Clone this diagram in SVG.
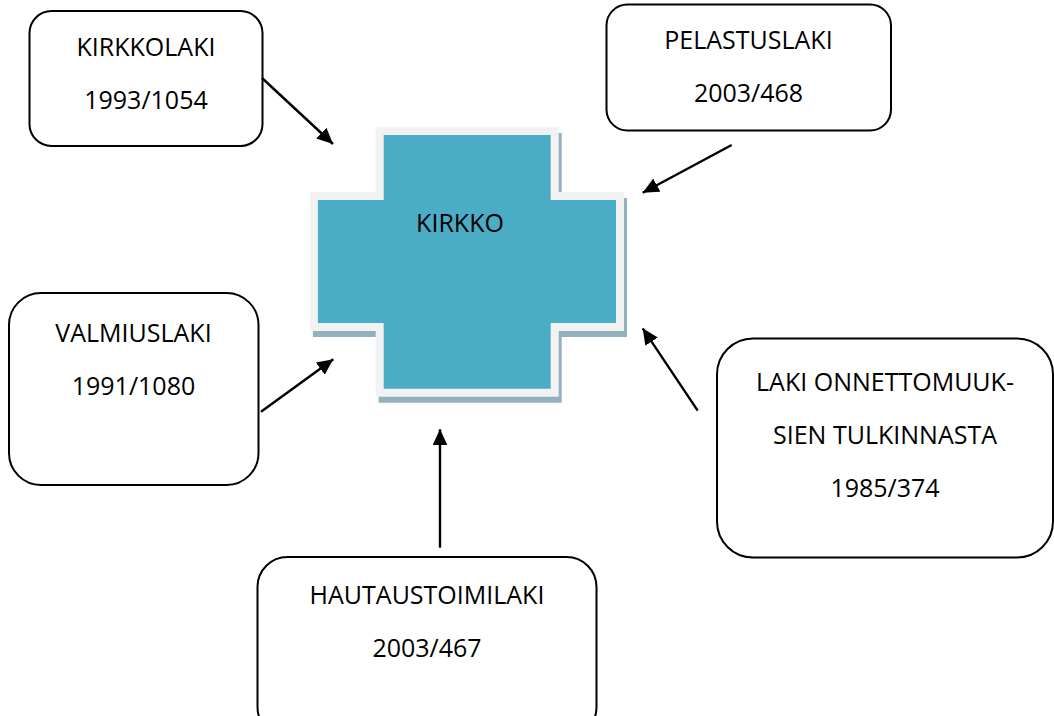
<svg xmlns="http://www.w3.org/2000/svg" width="1054" height="716" viewBox="0 0 1054 716">
<style>
.box{fill:#ffffff;stroke:#000000;stroke-width:2}
.t{font-family:"Open Sans","Noto Sans",sans-serif;font-size:25px;fill:#000000;text-anchor:middle}
.c{stroke:#000000;stroke-width:2.4;fill:none;marker-end:url(#ah)}
</style>
<defs>
<marker id="ah" markerUnits="userSpaceOnUse" markerWidth="17" markerHeight="15" refX="16" refY="7.5" orient="auto">
<path d="M0,0 L16,7.5 L0,15 Z" fill="#000000"/>
</marker>
</defs>
<rect width="1054" height="716" fill="#ffffff"/>
<g id="kirkko">
<polygon points="378.7,132.9 561.7,132.9 561.7,197.9 627,197.9 627,337 561.7,337 561.7,402.7 378.7,402.7 378.7,337 312.9,337 312.9,197.9 378.7,197.9" fill="#93b1bc"/>
<polygon points="379.7,130.9 554.7,130.9 554.7,195.9 620,195.9 620,327 554.7,327 554.7,392.7 379.7,392.7 379.7,327 313.9,327 313.9,195.9 379.7,195.9" fill="#4bacc6" stroke="#f2f2f2" stroke-width="8" stroke-linejoin="miter"/>
<text class="t" x="460" y="232">KIRKKO</text>
</g>
<g id="kirkkolaki">
<rect class="box" x="29.5" y="11" width="233" height="135" rx="22" ry="22"/>
<text class="t" x="146" y="56">KIRKKOLAKI</text>
<text class="t" x="146" y="109">1993/1054</text>
</g>
<g id="pelastuslaki">
<rect class="box" x="606.5" y="4.5" width="284.5" height="126" rx="21" ry="21"/>
<text class="t" x="748.5" y="49">PELASTUSLAKI</text>
<text class="t" x="748.5" y="102">2003/468</text>
</g>
<g id="valmiuslaki">
<rect class="box" x="9" y="293" width="249.5" height="192" rx="32" ry="32"/>
<text class="t" x="133.5" y="342">VALMIUSLAKI</text>
<text class="t" x="133.5" y="395">1991/1080</text>
</g>
<g id="onnettomuus">
<rect class="box" x="717" y="338.5" width="336" height="219" rx="36" ry="36"/>
<text class="t" x="885" y="391">LAKI ONNETTOMUUK-</text>
<text class="t" x="885" y="444">SIEN TULKINNASTA</text>
<text class="t" x="885" y="497">1985/374</text>
</g>
<g id="hautaus">
<rect class="box" x="257.5" y="557" width="339" height="180" rx="30" ry="30"/>
<text class="t" x="427" y="604">HAUTAUSTOIMILAKI</text>
<text class="t" x="427" y="657">2003/467</text>
</g>
<g id="connectors">
<line class="c" x1="262" y1="78" x2="333" y2="144"/>
<line class="c" x1="731.7" y1="145" x2="642.7" y2="192.7"/>
<line class="c" x1="261" y1="411.7" x2="333.3" y2="359.3"/>
<line class="c" x1="697.7" y1="410.7" x2="642.7" y2="328.3"/>
<line class="c" x1="440" y1="547.7" x2="440" y2="429.3"/>
</g>
</svg>
